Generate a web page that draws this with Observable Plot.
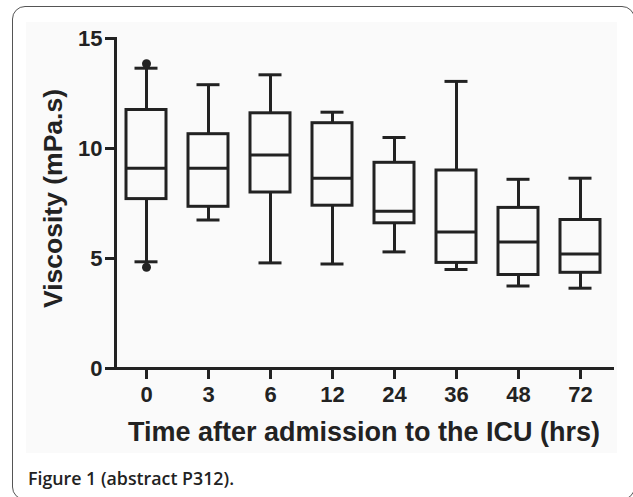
<!DOCTYPE html>
<html>
<head>
<meta charset="utf-8">
<script src="https://cdn.jsdelivr.net/npm/d3@7"></script>
<script src="https://cdn.jsdelivr.net/npm/@observablehq/plot@0.6"></script>
<style>
  html, body { margin: 0; padding: 0; background: #fff; overflow: hidden; }
  body { width: 633px; height: 497px; position: relative; }
  #frame { position: absolute; left: 12px; top: 6px; width: 623px; height: 494px;
           box-sizing: border-box; border: 1.5px solid #555; border-radius: 13px; }
  #chart { position: absolute; left: 26px; top: 22px; }
  #caption { position: absolute; left: 28px; top: 467px; font-family: "Open Sans", "Noto Sans", sans-serif;
             font-weight: 600; font-size: 17.8px; color: #222; line-height: 22px; white-space: nowrap; }
</style>
</head>
<body>
<div id="frame"></div>
<div id="chart"></div>
<div id="caption">Figure 1 (abstract P312).</div>
<script>
const times       = ["0", "3", "6", "12", "24", "36", "48", "72"];
const whiskerLow  = [4.85, 6.75, 4.8, 4.75, 5.3, 4.5, 3.75, 3.65];
const q1          = [7.7, 7.35, 8.0, 7.4, 6.6, 4.8, 4.25, 4.35];
const medians     = [9.1, 9.1, 9.7, 8.65, 7.15, 6.2, 5.75, 5.2];
const q3          = [11.75, 10.65, 11.6, 11.15, 9.35, 9.0, 7.3, 6.75];
const whiskerHigh = [13.65, 12.9, 13.35, 11.65, 10.5, 13.05, 8.6, 8.65];
const outlierTimes  = ["0", "0"];
const outlierValues = [13.85, 4.6];
const yTicks = [0, 5, 10, 15];
const xTitle = "Time after admission to the ICU (hrs)";
const yTitle = "Viscosity (mPa.s)";

const boxes = times.map((t, i) => ({time: t, lo: whiskerLow[i], q1: q1[i], med: medians[i], q3: q3[i], hi: whiskerHigh[i]}));
const outliers = outlierTimes.map((t, i) => ({time: t, value: outlierValues[i]}));

const ink = "#222";
const sw = 3;

const chart = Plot.plot({
  width: 591,
  height: 431,
  marginLeft: 89,
  marginRight: 5,
  marginTop: 16,
  marginBottom: 85,
  style: {background: "#fafafa", color: ink, fontFamily: "'Liberation Sans', Arial, sans-serif", fontWeight: "bold"},
  x: {type: "band", domain: times, paddingInner: 0.35, paddingOuter: 0.175, label: null},
  y: {domain: [0, 15], label: null},
  marks: [
    Plot.frame({anchor: "left", stroke: ink, strokeWidth: sw, strokeLinecap: "square"}),
    Plot.frame({anchor: "bottom", stroke: ink, strokeWidth: sw, strokeLinecap: "square"}),
    Plot.axisY({ticks: yTicks, tickSize: 10, tickPadding: 3, fontSize: 22, strokeWidth: sw, label: null, tickFormat: d => String(d)}),
    Plot.axisX({tickSize: 11, tickPadding: 7, fontSize: 22, strokeWidth: sw, label: null}),
    Plot.ruleX(boxes, {x: "time", y1: "q3", y2: "hi", stroke: ink, strokeWidth: sw}),
    Plot.ruleX(boxes, {x: "time", y1: "lo", y2: "q1", stroke: ink, strokeWidth: sw}),
    Plot.tickY(boxes, {x: "time", y: "hi", stroke: ink, strokeWidth: sw, inset: 8.5}),
    Plot.tickY(boxes, {x: "time", y: "lo", stroke: ink, strokeWidth: sw, inset: 8.5}),
    Plot.barY(boxes, {x: "time", y1: "q1", y2: "q3", fill: "none", stroke: ink, strokeWidth: sw, inset: 0}),
    Plot.tickY(boxes, {x: "time", y: "med", stroke: ink, strokeWidth: sw}),
    Plot.dot(outliers, {x: "time", y: "value", r: 4.5, fill: ink, stroke: null}),
    Plot.text([xTitle], {frameAnchor: "bottom", textAnchor: "middle", lineAnchor: "middle", dy: 64, fontSize: 27, fontWeight: "bold", fill: ink, letterSpacing: "0.2px"}),
    Plot.text([yTitle], {frameAnchor: "left", textAnchor: "middle", lineAnchor: "middle", rotate: -90, dx: -62, dy: -5, fontSize: 26.5, fontWeight: "bold", fill: ink})
  ]
});
document.getElementById("chart").appendChild(chart);
</script>
</body>
</html>
